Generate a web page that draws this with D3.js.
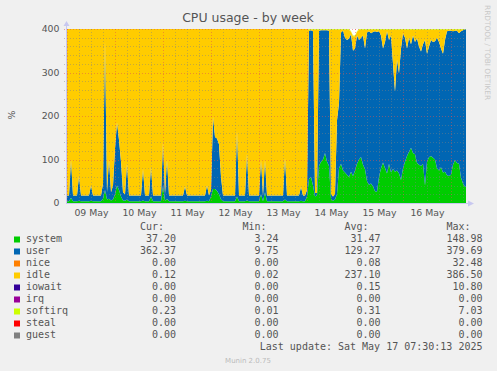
<!DOCTYPE html>
<html>
<head>
<meta charset="utf-8">
<script src="https://cdn.jsdelivr.net/npm/d3@7"></script>
<style>
body { margin: 0; background: #f0f0f0; }
svg { display: block; }
text { font-family: "DejaVu Sans", sans-serif; fill: #555; }
.mono { font-family: "DejaVu Sans Mono", monospace; font-size: 10px; }
</style>
</head>
<body>
<svg id="chart" width="497" height="371"></svg>
<script>
// one sample per hour, starting May 8 23:00
const startTime = new Date(2025, 4, 8, 23)

const system = [
    4,
    4,4,12,4,4,4,5,4,4,4,4,4,5,4,4,4,4,4,10,30,8,10,6,8,
    20,40,30,15,6,5,8,4,4,4,4,4,4,4,6,4,4,4,15,4,4,4,4,4,
    40,5,10,4,4,4,4,4,4,4,4,5,4,4,4,4,4,4,4,4,4,4,5,4,
    15,32,32,28,20,8,4,4,4,4,4,4,4,15,4,4,4,4,6,4,4,4,4,4,
    4,20,4,25,4,4,4,4,4,4,4,4,4,8,4,4,4,4,4,4,4,5,4,4,
    15,55,60,40,15,18,85,95,100,115,95,85,10,5,8,20,80,90,75,70,65,60,72,62,
    75,90,100,106,88,78,50,42,45,38,27,26,60,80,93,80,68,90,70,78,72,75,68,53,
    80,95,108,118,127,115,112,92,88,85,90,40,95,105,108,104,100,80,75,82,70,72,64,62,
    65,88,98,92,90,58,45,37.2,37.2
]
const user = [
    13,
    13,13,88,13,13,13,57,13,13,13,13,13,35,13,13,13,13,13,35,343,17,90,19,32,
    105,145,115,80,19,15,82,13,13,13,13,13,13,13,72,13,13,13,68,13,13,13,13,13,
    100,15,90,13,13,13,13,13,13,13,13,33,13,13,13,13,13,13,13,13,13,13,35,13,
    15,166,120,120,115,52,13,13,13,13,13,13,13,150,13,13,13,13,108,13,13,13,13,13,
    13,79,13,74,13,13,13,13,13,13,13,13,13,95,13,13,13,13,13,13,13,32,13,13,
    15,341,337,355,8,5,311,302,297,282,302,311,10,10,12,170,150,302,321,310,310,318,316,288,
    280,295,275,274,297,277,342,353,345,355,368,367,335,305,262,290,327,285,315,242,184,255,230,302,
    310,285,247,262,238,270,258,286,272,263,275,335,248,255,267,266,272,300,295,273,273,303,331,334,
    331,307,298,304,300,337,352,362.4,362.4
]
const idle = [
    382.8,
    382.8,382.8,299.8,382.8,382.8,382.8,337.8,382.8,382.8,382.8,382.8,382.8,359.8,382.8,382.8,382.8,382.8,382.8,354.8,26.8,374.8,299.8,374.8,359.8,
    274.8,214.8,254.8,304.8,374.8,379.8,309.8,382.8,382.8,382.8,382.8,382.8,382.8,382.8,321.8,382.8,382.8,382.8,316.8,382.8,382.8,382.8,382.8,382.8,
    259.8,379.8,299.8,382.8,382.8,382.8,382.8,382.8,382.8,382.8,382.8,361.8,382.8,382.8,382.8,382.8,382.8,382.8,382.8,382.8,382.8,382.8,359.8,382.8,
    369.8,201.8,247.8,251.8,264.8,339.8,382.8,382.8,382.8,382.8,382.8,382.8,382.8,234.8,382.8,382.8,382.8,382.8,285.8,382.8,382.8,382.8,382.8,382.8,
    382.8,300.8,382.8,300.8,382.8,382.8,382.8,382.8,382.8,382.8,382.8,382.8,382.8,296.8,382.8,382.8,382.8,382.8,382.8,382.8,382.8,362.8,382.8,382.8,
    369.8,2.5,1.5,3.5,375.5,375.5,2.5,1.5,1.5,1.5,1.5,2.5,378.5,383.5,378.5,208.5,168.5,6.5,2.5,18.5,23.5,20.5,5.5,33.5,
    28.5,8.5,23.5,18.5,13.5,43.5,6.5,3.5,8.5,5.5,3.5,5.5,3.5,13.5,43.5,28.5,3.5,23.5,13.5,78.5,142.5,68.5,100.5,43.5,
    8.5,18.5,43.5,18.5,33.5,13.5,28.5,20.5,38.5,50.5,33.5,23.5,55.5,38.5,23.5,28.5,26.5,18.5,28.5,43.5,55.5,23.5,3.5,2.5,
    2.5,3.5,2.5,2.5,8.5,3.5,1.5,0.1,0.1
]
const softirq = [
    0.2,
    0.2,0.2,0.2,0.2,0.2,0.2,0.2,0.2,0.2,0.2,0.2,0.2,0.2,0.2,0.2,0.2,0.2,0.2,0.2,0.2,0.2,0.2,0.2,0.2,
    0.2,0.2,0.2,0.2,0.2,0.2,0.2,0.2,0.2,0.2,0.2,0.2,0.2,0.2,0.2,0.2,0.2,0.2,0.2,0.2,0.2,0.2,0.2,0.2,
    0.2,0.2,0.2,0.2,0.2,0.2,0.2,0.2,0.2,0.2,0.2,0.2,0.2,0.2,0.2,0.2,0.2,0.2,0.2,0.2,0.2,0.2,0.2,0.2,
    0.2,0.2,0.2,0.2,0.2,0.2,0.2,0.2,0.2,0.2,0.2,0.2,0.2,0.2,0.2,0.2,0.2,0.2,0.2,0.2,0.2,0.2,0.2,0.2,
    0.2,0.2,0.2,0.2,0.2,0.2,0.2,0.2,0.2,0.2,0.2,0.2,0.2,0.2,0.2,0.2,0.2,0.2,0.2,0.2,0.2,0.2,0.2,0.2,
    0.2,1.5,1.5,1.5,1.5,1.5,1.5,1.5,1.5,1.5,1.5,1.5,1.5,1.5,1.5,1.5,1.5,1.5,1.5,1.5,1.5,1.5,1.5,1.5,
    1.5,1.5,1.5,1.5,1.5,1.5,1.5,1.5,1.5,1.5,1.5,1.5,1.5,1.5,1.5,1.5,1.5,1.5,1.5,1.5,1.5,1.5,1.5,1.5,
    1.5,1.5,1.5,1.5,1.5,1.5,1.5,1.5,1.5,1.5,1.5,1.5,1.5,1.5,1.5,1.5,1.5,1.5,1.5,1.5,1.5,1.5,1.5,1.5,
    1.5,1.5,1.5,1.5,1.5,1.5,1.5,0.3,0.3
]

const seriesNames = ["system", "user", "nice", "idle", "iowait", "irq", "softirq", "steal", "guest"]
const seriesColors = ["#00CC00", "#0066B3", "#FF8000", "#FFCC00", "#330099", "#990099", "#CCFF00", "#FF0000", "#808080"]
const curValues = [37.20, 362.37, 0.00, 0.12, 0.00, 0.00, 0.23, 0.00, 0.00]
const minValues = [3.24, 9.75, 0.00, 0.02, 0.00, 0.00, 0.01, 0.00, 0.00]
const avgValues = [31.47, 129.27, 0.08, 237.10, 0.15, 0.00, 0.31, 0.00, 0.00]
const maxValues = [148.98, 379.69, 32.48, 386.50, 10.80, 0.00, 7.03, 0.00, 0.00]
const lastUpdate = "Last update: Sat May 17 07:30:13 2025"

const svg = d3.select("#chart")
const plot = { left: 66, right: 466, top: 29, bottom: 203 }

const x = d3.scaleTime()
    .domain([new Date(2025, 4, 8, 23, 30), new Date(2025, 4, 17, 7, 30)])
    .range([plot.left, plot.right])
const y = d3.scaleLinear().domain([0, 400]).range([plot.bottom, plot.top])

const colorOf = name => seriesColors[seriesNames.indexOf(name)]

const rows = system.map((v, i) => ({
    time: d3.timeHour.offset(startTime, i),
    system: v,
    user: user[i],
    idle: idle[i],
    softirq: softirq[i]
}))
const stacked = d3.stack().keys(["system", "user", "idle", "softirq"])(rows)

svg.append("rect")
    .attr("x", plot.left).attr("y", plot.top)
    .attr("width", plot.right - plot.left).attr("height", plot.bottom - plot.top)
    .attr("fill", "#fff")

svg.append("clipPath").attr("id", "clip")
    .append("rect")
    .attr("x", plot.left).attr("y", plot.top)
    .attr("width", plot.right - plot.left).attr("height", plot.bottom - plot.top)

const area = d3.area()
    .x(d => x(d.data.time))
    .y0(d => y(d[0]))
    .y1(d => y(d[1]))

svg.append("g")
    .attr("clip-path", "url(#clip)")
    .selectAll("path")
    .data(stacked)
    .join("path")
    .attr("fill", d => colorOf(d.key))
    .attr("d", area)

// grid
const grid = svg.append("g").attr("shape-rendering", "crispEdges")
const minorColor = "rgba(128,128,128,0.45)"
const majorColor = "rgba(224,80,80,0.5)"
const gridTimes = d3.timeHour.every(6).range(...x.domain())
const isMajor = t => t.getHours() === 0

grid.selectAll(".hgrid")
    .data(y.ticks(20).filter(v => v > 0))
    .join("line")
    .attr("x1", plot.left - 2).attr("x2", plot.right)
    .attr("y1", v => Math.round(y(v)) + 0.5).attr("y2", v => Math.round(y(v)) + 0.5)
    .attr("stroke", v => v % 100 === 0 ? majorColor : minorColor)
    .attr("stroke-dasharray", "1,2")

grid.selectAll(".vgrid")
    .data(gridTimes)
    .join("line")
    .attr("x1", t => Math.round(x(t)) + 0.5).attr("x2", t => Math.round(x(t)) + 0.5)
    .attr("y1", plot.top)
    .attr("y2", t => plot.bottom + (isMajor(t) ? 3 : 2))
    .attr("stroke", t => isMajor(t) ? majorColor : minorColor)
    .attr("stroke-dasharray", "1,2")

// axes
const axisColor = "#C8C8F0"
svg.append("line")
    .attr("x1", plot.left + 0.5).attr("x2", plot.left + 0.5)
    .attr("y1", plot.bottom + 0.5).attr("y2", plot.top - 4)
    .attr("stroke", axisColor)
svg.append("line")
    .attr("x1", plot.left).attr("x2", plot.right + 4)
    .attr("y1", plot.bottom + 0.5).attr("y2", plot.bottom + 0.5)
    .attr("stroke", axisColor)
svg.append("path")
    .attr("d", `M${plot.left - 2.5},${plot.top - 3}L${plot.left + 3.5},${plot.top - 3}L${plot.left + 0.5},${plot.top - 8}Z`)
    .attr("fill", axisColor)
svg.append("path")
    .attr("d", `M${plot.right + 2},${plot.bottom - 2.5}L${plot.right + 2},${plot.bottom + 3.5}L${plot.right + 8},${plot.bottom + 0.5}Z`)
    .attr("fill", axisColor)

svg.append("g").selectAll("text")
    .data(y.ticks(4))
    .join("text")
    .attr("x", 59.5)
    .attr("y", v => y(v) + 3.4)
    .attr("text-anchor", "end")
    .attr("font-size", "9.33px")
    .text(v => v)

svg.append("g").selectAll("text")
    .data(d3.timeDay.range(new Date(2025, 4, 9), new Date(2025, 4, 17)))
    .join("text")
    .attr("x", d => x(d3.timeHour.offset(d, 12)) + 0.5)
    .attr("y", 215.5)
    .attr("text-anchor", "middle")
    .attr("font-size", "9.33px")
    .text(d3.timeFormat("%d %b"))

svg.append("text")
    .attr("transform", "translate(14.5,115) rotate(-90)")
    .attr("text-anchor", "middle")
    .attr("font-size", "9.33px")
    .text("%")

svg.append("text")
    .attr("x", 248).attr("y", 22)
    .attr("text-anchor", "middle")
    .attr("font-size", "12.5px")
    .text("CPU usage - by week")

svg.append("text")
    .attr("transform", "translate(485,5) rotate(90)")
    .attr("font-size", "7.4px")
    .style("fill", "#c8c8c8")
    .text("RRDTOOL / TOBI OETIKER")

// legend
const legend = svg.append("g")
const fmt = d3.format(".2f")
const columns = [
    { title: "Cur:", right: 176, values: curValues },
    { title: "Min:", right: 278.5, values: minValues },
    { title: "Avg:", right: 380.5, values: avgValues },
    { title: "Max:", right: 482.5, values: maxValues }
]

legend.selectAll(".head")
    .data(columns)
    .join("text")
    .attr("class", "mono")
    .attr("x", c => c.right - 12)
    .attr("y", 230)
    .attr("text-anchor", "end")
    .text(c => c.title)

const row = legend.selectAll(".row")
    .data(seriesNames)
    .join("g")
    .attr("transform", (d, i) => `translate(0,${242 + i * 12})`)

row.append("rect")
    .attr("x", 14).attr("y", -5.5)
    .attr("width", 6).attr("height", 6)
    .attr("fill", (d, i) => seriesColors[i])

row.append("text")
    .attr("class", "mono")
    .attr("x", 26)
    .text(d => d)

columns.forEach(c => {
    row.append("text")
        .attr("class", "mono")
        .attr("x", c.right)
        .attr("text-anchor", "end")
        .text((d, i) => fmt(c.values[i]))
})

legend.append("text")
    .attr("class", "mono")
    .attr("x", 482.5).attr("y", 350)
    .attr("text-anchor", "end")
    .text(lastUpdate)

svg.append("text")
    .attr("x", 248).attr("y", 362.5)
    .attr("text-anchor", "middle")
    .attr("font-size", "7px")
    .style("fill", "#bbb")
    .text("Munin 2.0.75")
</script>
</body>
</html>
